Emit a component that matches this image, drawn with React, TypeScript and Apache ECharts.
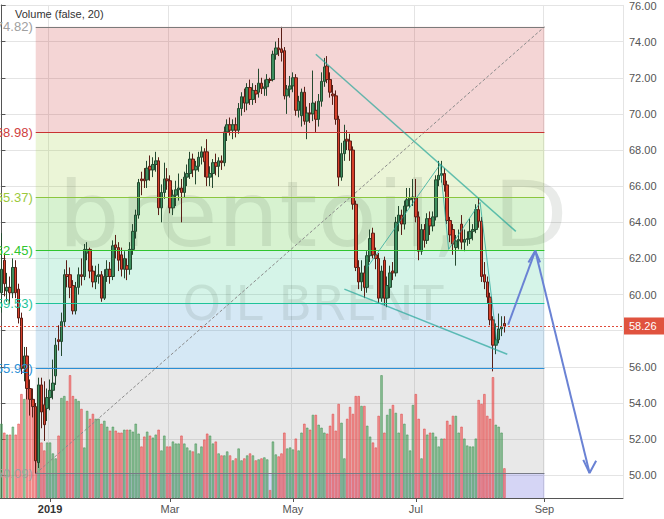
import React, { useEffect, useRef } from 'react';
import * as echarts from 'echarts';

// ---------- DATA ----------
// Candles: [open, close, low, high], one row per trading day starting 2018-12-06
const candlesDec2018 = [
  [60.1, 61.4, 59.0, 63.4], [61.9, 60.6, 59.9, 62.3], [60.2, 60.4, 59.6, 61.2], [60.4, 60.1, 59.5, 61.0],
  [60.1, 61.5, 59.8, 62.0], [61.5, 60.1, 59.8, 61.9], [60.3, 58.7, 58.4, 60.6], [58.7, 55.9, 55.6, 59.0],
  [55.9, 56.6, 55.2, 57.1], [56.6, 54.8, 54.2, 57.1], [54.8, 54.2, 53.3, 55.3], [54.2, 53.8, 53.2, 54.8],
  [53.8, 50.8, 50.09, 54.0], [50.7, 55.0, 50.4, 55.4], [55.0, 53.5, 52.6, 55.4], [53.9, 52.8, 51.9, 55.2],
  [53.7, 54.3, 53.0, 54.8],
];
const candlesJan2019 = [
  [54.3, 54.7, 53.6, 55.3], [54.7, 55.1, 54.2, 56.4], [55.5, 57.2, 55.0, 57.6], [57.5, 57.4, 56.9, 58.3],
  [57.4, 58.5, 56.6, 59.0], [58.5, 61.1, 58.2, 61.4], [61.1, 61.0, 60.4, 61.9], [61.1, 60.4, 59.8, 61.5],
  [60.5, 59.1, 58.9, 60.8], [59.1, 60.4, 58.9, 60.7], [60.4, 61.1, 60.0, 61.5], [61.1, 61.0, 60.5, 62.0],
  [61.0, 62.5, 60.8, 62.8], [62.3, 62.5, 61.9, 62.9], [62.5, 61.3, 60.9, 62.6], [61.3, 60.7, 60.4, 61.6],
  [60.7, 61.05, 60.3, 61.6], [61.0, 61.1, 60.6, 61.7], [61.1, 59.8, 59.6, 61.3], [59.8, 61.0, 59.7, 61.4],
  [61.0, 61.4, 60.7, 61.9], [61.4, 61.0, 60.6, 61.8],
];
const candlesFeb2019 = [
  [61.0, 62.7, 60.8, 63.0], [62.75, 62.6, 62.0, 63.3], [62.6, 61.9, 61.3, 62.9], [62.2, 61.4, 61.0, 62.6],
  [61.4, 62.0, 60.9, 62.4], [61.6, 61.4, 60.8, 62.0], [61.4, 62.5, 61.1, 62.9], [62.5, 63.5, 62.2, 63.9],
  [63.5, 64.4, 63.1, 64.7], [64.4, 66.2, 64.2, 66.4], [66.4, 66.3, 65.5, 66.8], [66.4, 66.3, 65.9, 67.0],
  [66.35, 67.0, 65.9, 67.4], [67.1, 66.9, 66.3, 67.7], [66.9, 67.2, 66.5, 67.6], [67.2, 67.4, 66.8, 67.9],
  [67.4, 64.8, 64.4, 67.6], [64.8, 65.65, 64.0, 66.1], [65.65, 66.4, 65.3, 67.3], [66.4, 66.3, 65.8, 67.0],
];
const candlesMar2019 = [
  [66.3, 64.8, 64.5, 66.6], [64.8, 65.5, 64.4, 65.8], [65.5, 65.8, 64.9, 66.3], [65.8, 65.9, 65.2, 66.7],
  [65.9, 65.65, 64.0, 66.4], [65.65, 66.5, 65.4, 66.8], [66.5, 66.7, 66.0, 67.2], [66.7, 67.5, 66.4, 67.9],
  [67.5, 66.9, 66.5, 67.8], [66.9, 67.1, 66.1, 67.4], [67.1, 67.6, 66.8, 67.9], [67.6, 67.9, 67.2, 68.2],
  [67.9, 67.35, 66.5, 68.1], [67.9, 66.5, 66.0, 68.6], [66.5, 66.7, 66.0, 67.1], [66.7, 67.3, 65.9, 67.5],
  [67.3, 67.1, 66.6, 67.8], [67.1, 67.4, 66.5, 67.6], [67.4, 67.3, 66.9, 67.7], [67.3, 69.0, 67.1, 69.3],
  [69.0, 69.4, 68.5, 69.7],
];
const candlesApr2019 = [
  [69.4, 69.1, 68.8, 69.8], [69.1, 69.4, 68.6, 69.7], [69.4, 69.1, 68.7, 69.8], [69.1, 70.3, 68.9, 70.6],
  [70.3, 70.95, 69.9, 71.2], [70.95, 70.6, 70.1, 71.4], [70.6, 71.46, 70.2, 71.7], [71.46, 70.8, 70.5, 71.9],
  [70.8, 71.3, 70.5, 71.7], [71.3, 71.1, 70.6, 71.6], [71.2, 71.7, 70.9, 72.5], [71.7, 71.4, 71.1, 72.0],
  [71.4, 71.5, 71.0, 71.9], [71.5, 71.9, 71.0, 72.2], [71.9, 71.85, 71.7, 72.0], [71.9, 73.3, 71.8, 73.5],
  [73.3, 73.65, 73.0, 74.0], [73.65, 73.55, 73.2, 74.2], [73.6, 73.4, 72.9, 74.82], [73.5, 71.0, 70.8, 73.7],
  [71.0, 71.37, 70.0, 71.6], [71.37, 71.55, 70.9, 72.1],
];
const candlesMay2019 = [
  [71.55, 72.0, 71.2, 72.3], [72.0, 70.2, 69.9, 72.2], [70.2, 70.7, 69.8, 71.0], [69.9, 71.2, 69.3, 71.4],
  [71.2, 69.6, 69.4, 71.5], [69.6, 70.05, 68.6, 70.4], [70.05, 70.0, 69.5, 70.6], [70.0, 70.6, 69.6, 72.4],
  [70.2, 69.7, 69.0, 70.7], [69.7, 70.7, 69.3, 71.1], [70.7, 71.8, 70.4, 72.3], [71.8, 72.6, 71.5, 73.1],
  [72.65, 71.9, 71.7, 73.2], [71.9, 71.2, 70.9, 72.3], [71.1, 71.0, 70.5, 71.6], [71.0, 69.7, 69.4, 71.3],
  [69.7, 66.5, 66.0, 69.9], [66.5, 67.8, 66.3, 68.4], [67.8, 68.5, 67.4, 69.4], [68.6, 68.5, 68.0, 69.1],
  [68.5, 68.0, 67.4, 68.9], [68.0, 65.0, 64.7, 68.2], [65.0, 61.5, 61.3, 65.2],
];
const candlesJun2019 = [
  [61.5, 60.7, 60.3, 61.9], [60.7, 61.2, 60.2, 61.9], [61.2, 60.4, 59.8, 61.6], [60.4, 62.15, 60.1, 62.4],
  [62.15, 63.1, 61.8, 63.6], [63.4, 62.2, 62.0, 63.7], [62.2, 62.0, 61.4, 62.6], [62.0, 59.8, 59.5, 62.3],
  [59.8, 61.3, 59.6, 61.6], [61.9, 59.8, 59.4, 62.1], [59.8, 60.5, 59.3, 61.0], [60.4, 61.2, 59.8, 61.6],
  [61.3, 61.2, 60.8, 61.8], [61.2, 64.0, 61.0, 64.3], [64.0, 64.4, 63.5, 64.9], [64.4, 63.9, 63.3, 64.7],
  [63.9, 64.9, 63.6, 65.2], [64.9, 65.25, 64.6, 65.9], [65.25, 65.35, 64.8, 65.9], [65.35, 65.4, 64.9, 66.4],
];
const candlesJul2019 = [
  [65.35, 64.3, 64.0, 66.4], [64.3, 62.4, 61.9, 64.6], [62.4, 63.6, 62.2, 63.9], [63.6, 63.0, 62.6, 63.9],
  [63.0, 64.2, 62.8, 64.5], [64.2, 63.8, 63.3, 64.6], [63.8, 64.3, 63.5, 64.6], [64.3, 66.35, 64.1, 66.6],
  [66.35, 66.6, 66.0, 67.4], [66.6, 66.7, 66.2, 67.4], [66.7, 66.07, 65.7, 67.0], [66.07, 64.1, 63.9, 66.3],
  [64.1, 63.3, 62.9, 64.3], [63.6, 62.8, 62.2, 63.9], [62.6, 62.97, 61.6, 63.3], [62.97, 63.05, 62.5, 63.6],
  [63.9, 62.9, 62.5, 64.4], [62.9, 63.05, 62.4, 63.6], [63.05, 63.1, 62.7, 63.5], [63.1, 63.5, 62.8, 64.2],
  [63.5, 63.6, 63.0, 63.9], [63.6, 64.7, 63.4, 65.0], [64.7, 64.06, 63.7, 65.4],
];
const candlesAug2019 = [
  [64.06, 61.0, 60.7, 64.3], [61.1, 60.7, 60.3, 61.8], [60.7, 59.86, 59.5, 61.0], [59.86, 58.6, 58.3, 60.1],
  [58.6, 57.2, 55.75, 58.8], [57.2, 57.5, 56.7, 58.4], [57.5, 58.1, 57.3, 58.95], [58.1, 58.2, 57.7, 58.8],
  [58.4, 58.26, 57.9, 58.8],
];

// Volume (arbitrary units)
const volumesDec2018 = [75, 66, 64, 64, 72, 64, 75, 105, 100, 110, 100, 95, 85, 60, 56, 48, 56];
const volumesJan2019 = [56, 45, 40, 63, 101, 103, 98, 124, 103, 100, 98, 90, 51, 88, 80, 85, 80, 80, 75, 78, 72, 68];
const volumesFeb2019 = [72, 68, 66, 66, 69, 69, 69, 67, 75, 65, 52, 62, 67, 63, 61, 64, 69, 48, 63, 52];
const volumesMar2019 = [52, 57, 55, 55, 63, 55, 51, 48, 47, 55, 45, 52, 59, 65, 63, 55, 57, 45, 43, 43, 47];
const volumesApr2019 = [43, 38, 40, 50, 38, 40, 43, 45, 43, 38, 39, 40, 41, 39, 8, 57, 44, 42, 45, 66, 50, 51];
const volumesMay2019 = [49, 60, 48, 66, 75, 71, 69, 84, 84, 74, 71, 66, 65, 73, 85, 68, 95, 76, 40, 80, 92, 85, 103];
const volumesJun2019 = [103, 93, 93, 73, 62, 56, 51, 83, 124, 66, 84, 90, 94, 86, 66, 85, 75, 64, 48, 94];
const volumesJul2019 = [105, 80, 40, 70, 64, 66, 66, 62, 52, 60, 60, 78, 74, 83, 83, 66, 72, 60, 53, 52, 52, 60, 99];
const volumesAug2019 = [95, 105, 83, 80, 122, 74, 72, 66, 30];

const firstDate = '2018-12-06';
const holidays = ['2018-12-25', '2019-01-01'];
const categoryCount = 218;
const monthLabels: Record<number, string> = { 1: '2019', 3: 'Mar', 5: 'May', 7: 'Jul', 9: 'Sep' };

const priceTicks = { min: 48.74, max: 76.03, step: 2 };
const volumeAxisMax = 498;
const lastPrice = 58.26;

// Fibonacci retracement (anchored Dec 24 low -> Sep 2)
const fibStartIdx = 12;
const fibEndIdx = 190;
const fibLevels = [74.82, 68.98, 65.37, 62.45, 59.53, 55.92, 50.09];
const fibLineColors = ['#7b7b7b', '#c83232', '#8cc63f', '#2fc52f', '#1fc39a', '#2a8fd6', '#787b86'];
const fibLabelColors = ['#a0a0a0', '#d04040', '#9bc93c', '#2fc52f', '#1fc39a', '#2a8fd6', '#a0a0a0'];
const fibBandColors = [
  'rgba(200,45,45,0.2)', 'rgba(155,205,55,0.2)', 'rgba(55,190,20,0.2)', 'rgba(45,200,140,0.2)',
  'rgba(45,140,205,0.2)', 'rgba(140,140,140,0.2)', 'rgba(45,45,205,0.2)',
];

// Drawings: [barIndex, price]
const fibTrendLine = [[12, 50.09], [190, 74.82]];
const upperTrendLine = [[110, 73.3], [180, 63.5]];
const lowerTrendLine = [[120, 60.3], [177, 56.7]];
const zigzagLine = [[128, 61.5], [153.5, 67.2], [156.5, 62.5], [167.5, 65.1], [173.5, 57.2]];
const arrowUpShaft = [[177.3, 58.33], [186.8, 62.42]];
const arrowUpHead = [[184.4, 61.78], [186.8, 62.42], [188.5, 61.78]];
const arrowDownShaft = [[186.8, 62.42], [205.8, 50.12]];
const arrowDownHead = [[203.6, 50.85], [205.8, 50.12], [208.1, 50.8]];

// ---------- BUILD ----------
function buildDates(): string[] {
  const out: string[] = [];
  const [y, m, d] = firstDate.split('-').map(Number);
  const cur = new Date(Date.UTC(y, m - 1, d));
  while (out.length < categoryCount) {
    const wd = cur.getUTCDay();
    const s = cur.toISOString().slice(0, 10);
    if (wd !== 0 && wd !== 6 && !holidays.includes(s)) out.push(s);
    cur.setUTCDate(cur.getUTCDate() + 1);
  }
  return out;
}

const FONT = '"Liberation Sans", Arial, sans-serif';

function buildOption() {
  const dates = buildDates();
  const candles = [
    ...candlesDec2018, ...candlesJan2019, ...candlesFeb2019, ...candlesMar2019, ...candlesApr2019,
    ...candlesMay2019, ...candlesJun2019, ...candlesJul2019, ...candlesAug2019,
  ];
  const volumes = [
    ...volumesDec2018, ...volumesJan2019, ...volumesFeb2019, ...volumesMar2019, ...volumesApr2019,
    ...volumesMay2019, ...volumesJun2019, ...volumesJul2019, ...volumesAug2019,
  ];
  const labelAt = (i: number): string | null => {
    if (i <= 0 || i >= dates.length) return null;
    const m = +dates[i].slice(5, 7);
    const pm = +dates[i - 1].slice(5, 7);
    if (m === pm) return null;
    return monthLabels[m] ?? null;
  };
  const isLabelIdx = (i: number) => labelAt(i) !== null;

  const upVol = { color: 'rgba(70,160,90,0.55)', borderColor: 'rgba(60,140,75,0.85)', borderWidth: 0.6 };
  const downVol = { color: 'rgba(240,80,80,0.55)', borderColor: 'rgba(225,60,60,0.85)', borderWidth: 0.6 };
  const volumeData = volumes.map((v, i) => ({
    value: v,
    itemStyle: candles[i][1] >= candles[i][0] ? upVol : downVol,
  }));

  const bandBounds = [...fibLevels, priceTicks.min];
  const bands = fibBandColors.map((c, i) => [
    { coord: [fibStartIdx, bandBounds[i]], itemStyle: { color: c } },
    { coord: [fibEndIdx, bandBounds[i + 1]] },
  ]);
  const fibLines = fibLevels.map((lv, i) => [
    {
      coord: [fibStartIdx, lv],
      lineStyle: { color: fibLineColors[i], width: 1.2, type: 'solid' },
      label: {
        show: true, position: 'start', formatter: `(${lv.toFixed(2)})`,
        color: fibLabelColors[i], fontSize: 13, fontFamily: FONT, distance: 3,
      },
    },
    { coord: [fibEndIdx, lv] },
  ]);

  const overlay = (data: number[][], color: string, width: number, type: any = 'solid', z = 5) => ({
    type: 'line', xAxisIndex: 1, yAxisIndex: 0, data, symbol: 'none', silent: true, z,
    lineStyle: { color, width, type }, animation: false,
  });

  return {
    animation: false,
    backgroundColor: '#ffffff',
    grid: { left: 0, right: 41, top: 0, bottom: 21 },
    xAxis: [
      {
        type: 'category', data: dates, boundaryGap: true, gridIndex: 0,
        axisLine: { lineStyle: { color: '#555', width: 1 } },
        axisTick: { show: true, alignWithLabel: true, length: 4, interval: (i: number) => isLabelIdx(i), lineStyle: { color: '#555' } },
        axisLabel: {
          interval: (i: number) => isLabelIdx(i),
          formatter: (_v: string, i: number) => {
            const l = labelAt(i) ?? '';
            return l === '2019' ? `{y|${l}}` : l;
          },
          color: '#555', fontSize: 11, fontFamily: FONT, margin: 5,
          rich: { y: { fontWeight: 'bold', color: '#333', fontSize: 11, fontFamily: FONT } },
        },
        splitLine: { show: true, interval: (i: number) => isLabelIdx(i), lineStyle: { color: '#e4e4e4', width: 1 } },
      },
      { type: 'value', min: -0.5, max: categoryCount - 0.5, show: false, gridIndex: 0 },
    ],
    yAxis: [
      {
        type: 'value', position: 'right', min: priceTicks.min, max: priceTicks.max,
        splitNumber: 13, minInterval: priceTicks.step, maxInterval: priceTicks.step,
        axisLine: { show: true, lineStyle: { color: '#555', width: 1 } },
        axisTick: { show: true, length: 4, lineStyle: { color: '#555' } },
        axisLabel: {
          color: '#555', fontSize: 11, fontFamily: FONT, margin: 6,
          formatter: (v: number) => {
            if (Math.abs(v - Math.round(v)) > 1e-6) return '';
            if (Math.abs(v - lastPrice) < 1) return '';
            return v.toFixed(2);
          },
        },
        splitLine: { show: true, lineStyle: { color: '#e4e4e4', width: 1 } },
      },
      { type: 'value', min: 0, max: volumeAxisMax, show: false },
    ],
    graphic: [
      {
        type: 'text', x: 313, y: 215, z: 2, silent: true, scaleX: 1.07,
        style: { text: 'brentoil, D', font: '91px "DejaVu Sans"', fill: 'rgba(40,60,40,0.1)', textAlign: 'center', textVerticalAlign: 'middle' },
      },
      {
        type: 'text', x: 313, y: 303, z: 2, silent: true, scaleX: 1.02,
        style: { text: 'OIL BRENT', font: '48px "DejaVu Sans"', fill: 'rgba(40,60,40,0.1)', textAlign: 'center', textVerticalAlign: 'middle' },
      },
      {
        type: 'text', x: 15, y: 14, z: 10, silent: true,
        style: { text: 'Volume (false, 20)', font: `11px ${FONT}`, fill: '#333', textAlign: 'left', textVerticalAlign: 'middle' },
      },
    ],
    series: [
      {
        type: 'line', name: 'fibBands', xAxisIndex: 1, yAxisIndex: 0, data: [], z: 1, silent: true,
        markArea: { silent: true, data: bands },
      },
      {
        type: 'bar', name: 'volume', xAxisIndex: 0, yAxisIndex: 1, data: volumeData, barWidth: '82%', z: 3, silent: true,
      },
      {
        type: 'line', name: 'fibLines', xAxisIndex: 1, yAxisIndex: 0, data: [], z: 3.5, silent: true,
        markLine: { symbol: 'none', silent: true, data: fibLines },
      },
      overlay(fibTrendLine, '#8a8a8a', 1, [3, 2], 3.6),
      {
        type: 'candlestick', name: 'brent', xAxisIndex: 0, yAxisIndex: 0, data: candles, z: 4, barWidth: 3,
        itemStyle: { color: '#3d8f5f', color0: '#d6402b', borderColor: '#24492f', borderColor0: '#5a1e16', borderWidth: 1 },
        markLine: {
          symbol: 'none', silent: true,
          data: [{ yAxis: lastPrice }],
          lineStyle: { color: '#e04a3a', type: [2, 2], width: 1 },
          label: {
            show: true, position: 'end', formatter: lastPrice.toFixed(2), backgroundColor: '#e0533f',
            color: '#fff', fontSize: 11, fontFamily: FONT, padding: [3, 8, 3, 5], distance: 1,
          },
        },
      },
      overlay(upperTrendLine, 'rgba(38,166,154,0.7)', 1.5),
      overlay(lowerTrendLine, 'rgba(38,166,154,0.7)', 1.5),
      overlay(zigzagLine, 'rgba(38,166,154,0.75)', 1),
      overlay(arrowUpShaft, '#6a82d4', 2),
      overlay(arrowUpHead, '#6a82d4', 2),
      overlay(arrowDownShaft, '#6a82d4', 2),
      overlay(arrowDownHead, '#6a82d4', 2),
    ],
  };
}

export default function App() {
  const ref = useRef<HTMLDivElement>(null);
  useEffect(() => {
    document.body.style.margin = '0';
    if (!ref.current) return;
    const chart = echarts.init(ref.current, undefined, { renderer: 'svg', width: 664, height: 519 });
    chart.setOption(buildOption() as any);
    return () => chart.dispose();
  }, []);
  return <div ref={ref} style={{ width: 664, height: 519 }} />;
}
